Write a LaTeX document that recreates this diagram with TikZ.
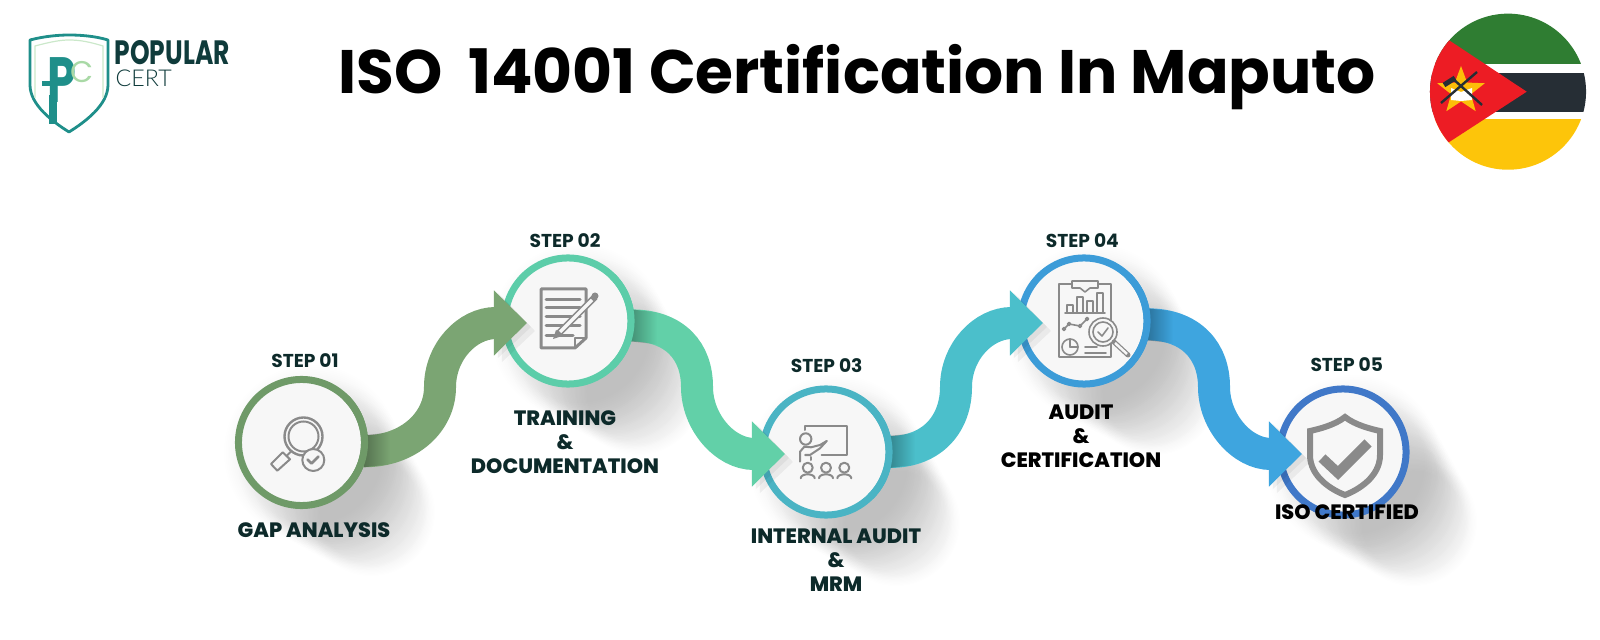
\documentclass[tikz,border=0pt]{standalone}
\usepackage{fontspec}
\setmainfont{Poppins}
\newfontfamily\certfont{Lato Light}
\newfontfamily\heavyfont{Poppins ExtraBold}
\definecolor{ringA}{HTML}{6F9A68}
\definecolor{ringB}{HTML}{5CCDA9}
\definecolor{ringC}{HTML}{4AB4C4}
\definecolor{ringD}{HTML}{3C9CD8}
\definecolor{ringE}{HTML}{4078C8}
\definecolor{bandA}{HTML}{7BA573}
\definecolor{bandB}{HTML}{62D0A8}
\definecolor{bandC}{HTML}{4BBFCB}
\definecolor{bandD}{HTML}{3EA5DF}
\definecolor{iconGray}{HTML}{8A8A8A}
\definecolor{discBg}{HTML}{F7F7F7}
\definecolor{labelInk}{HTML}{0D2A2A}
\definecolor{logoTeal}{HTML}{1F8F8A}
\definecolor{logoPale}{HTML}{A9D9A6}
\definecolor{logoInk}{HTML}{0F3B3B}
\definecolor{flagGreen}{HTML}{2F7D32}
\definecolor{flagBlack}{HTML}{262E35}
\definecolor{flagYellow}{HTML}{FDC50A}
\definecolor{flagRed}{HTML}{ED1C24}
\usetikzlibrary{arrows.meta, shapes.geometric, fadings}

\begin{document}
\begin{tikzpicture}[
  x=.01cm, y=-.01cm,
  stepc/.style={circle, draw=#1, fill=discBg, line width=.07cm, minimum size=1.26cm, inner sep=0pt, outer sep=0pt},
  steplab/.style={text=labelInk, font=\fontsize{5.3}{6.4}\selectfont\bfseries},
  namelab/.style={text=labelInk, align=center, font=\fontsize{5.9}{6.83}\selectfont\heavyfont},
  logotxt/.style={anchor=base west, inner sep=0pt, text=logoInk},
  icon/.style={draw=iconGray, line width=.02cm, line cap=round, line join=round},
  iconb/.style={icon, line width=.03cm},
  ribbon/.style={line width=.32cm, -{Triangle[length=.33cm,width=.63cm]}}
]
  \useasboundingbox (0,0) rectangle (1600,640);

  % long soft shadows
  \foreach \cx/\cy in {301/442, 568/321, 826/452, 1084/321, 1343/452}
    \foreach \d in {10,20,...,70}
      \fill[black, opacity=.04, path fading=circle with fuzzy edge 20 percent] (\cx+\d,\cy+\d) circle[radius={.92cm-\d*.004cm}];

  % title and logo
  \node[anchor=base, font=\fontsize{17.45}{22}\selectfont\bfseries] (title) at (857,94) {ISO\ \ 14001 Certification In Maputo};

  \draw[logoTeal, line width=.028cm, line join=round] (30,40) .. controls (45,36) and (60,35) .. (69,35) .. controls (80,35) and (95,36) .. (108,40) -- (108,85) .. controls (108,105) and (85,122) .. (69,132) .. controls (53,122) and (30,105) .. (30,85) -- cycle;
  \draw[logoPale!60, line width=.012cm] (35,98) -- (35,46) .. controls (50,42) and (60,40) .. (69,40) .. controls (80,40) and (90,42) .. (103,46) -- (103,98);
  \node[text=logoTeal, inner sep=0pt, font=\fontsize{18.2}{20}\selectfont\bfseries] (logoP) at (62,80) {\scalebox{.72}[1]{P}};
  \node[text=logoPale, inner sep=0pt, font=\fontsize{8.5}{10}\selectfont] (logoC) at (82,72) {C};
  \draw[logoTeal, line width=.07cm] (53,95) -- (53,124);
  \draw[logoTeal, line width=.05cm] (42,84) -- (57,84);
  \node[logotxt, text height=.23cm, text depth=0pt, font=\fontsize{9.6}{11}\selectfont\bfseries] (popular) at (114,65) {\scalebox{.74}[1]{POPULAR}};
  \node[logotxt, text height=.16cm, text depth=0pt, font=\fontsize{6.6}{8}\selectfont\certfont] (cert) at (115,87) {CERT};

  % flag
  \begin{scope}
    \clip (1508,91.7) circle[radius=.78cm];
    \fill[flagGreen] (1420,10) rectangle (1600,64);
    \fill[flagBlack] (1420,72.7) rectangle (1600,111.7);
    \fill[flagYellow] (1420,119.3) rectangle (1600,175);
    \fill[flagRed] (1420,21) -- (1526.7,91.7) -- (1420,161) -- cycle;
  \end{scope}
  \node[star, star points=5, star point ratio=2.4, fill=flagYellow!90!orange, inner sep=0pt, minimum size=.5cm] (flagstar) at (1461,91) {};
  \fill[white] (1451,88) -- (1461,92) -- (1472,88) -- (1472,100) -- (1461,101) -- (1451,100) -- cycle;
  \draw[flagBlack, line width=.024cm] (1441,103) -- (1477,72);
  \draw[flagBlack, line width=.024cm] (1452,78) -- (1482,105);
  \draw[flagBlack, line width=.05cm] (1444,85) -- (1455,78);

  % steps
  \node[stepc=ringA] (s1) at (301.5,442.5) {};
  \node[stepc=ringB] (s2) at (568,321) {};
  \node[stepc=ringC] (s3) at (826,452) {};
  \node[stepc=ringD] (s4) at (1084,321) {};
  \node[stepc=ringE] (s5) at (1343,452) {};

  \coordinate (m1) at (440,387);
  \coordinate (m2) at (697,387);
  \coordinate (m3) at (956,387);
  \coordinate (m4) at (1214,387);

  \foreach \a/\b/\m/\t/\s/\c/\r in {s1/s2/m1/-8/-1/bandA/ringA, s2/s3/m2/-4/1/bandB/ringB, s3/s4/m3/0/-1/bandC/ringC, s4/s5/m4/-3/1/bandD/ringD} {
    \foreach \o in {4,8}
      \fill[black, opacity=.05] ([shift={(\o-11,\o-32)}]\b.west) -- ([shift={(\o+22,\o+2)}]\b.west) -- ([shift={(\o-11,\o+33)}]\b.west) -- cycle;
    \draw[ribbon, \c] (\a.\t) .. controls +(45,0) and +(0,{-\s*35}) .. (\m) .. controls +(0,{\s*35}) and +(-60,0) .. ([xshift=.22cm,yshift=-.02cm]\b.west);
    \fill[black, opacity=.3, path fading=east] ([yshift=.16cm]\a.\t) -- ([xshift=.26cm,yshift={(.16-\s*.03)*1cm}]\a.\t) -- ([xshift=.26cm,yshift={(-.16-\s*.03)*1cm}]\a.\t) -- ([yshift=-.16cm]\a.\t) -- cycle;
    \draw[\r, line width=.07cm] (\a.-45) arc[start angle=-45, end angle=45, radius=.63cm];
  }

  % icon 1
  \begin{scope}[shift={(s1.center)}]
    \draw[icon, line width=.024cm] (2,-6) circle[radius=.19cm];
    \draw[icon] (2,-6) circle[radius=.15cm];
    \draw[icon] (-15,13.5) -- (-10,8.5);
    \draw[icon] (-18.8,9.8) -- (-11.5,16.8) -- (-24.2,28.2) -- (-30.5,21.5) -- cycle;
    \draw[icon, fill=discBg] (11.8,17.5) circle[radius=.11cm];
    \draw[icon, line width=.028cm] (6,17) -- (10,21) -- (17,14);
  \end{scope}

  % icon 2
  \begin{scope}[shift={(s2.center)}]
    \draw[iconb] (-27,-32) -- (18,-32) -- (18,17) -- (7,27) -- (-27,27) -- cycle;
    \draw[icon] (18,17) -- (7,17) -- (7,27);
    \foreach \ly/\lx in {-21/12, -13/12, -4/12, 5/12, 15/5}
      \draw[iconb] (-22,\ly) -- (\lx,\ly);
    \draw[iconGray, line width=.065cm] (27,-24) -- (-10,13);
    \draw[discBg, line width=.035cm] (24,-21) -- (-8,11);
    \fill[iconGray] (27,-25) circle[radius=.035cm];
    \fill[iconGray] (-15,18) -- (-12,9) -- (-6,15) -- cycle;
  \end{scope}

  % icon 3
  \begin{scope}[shift={(s3.center)}]
    \draw[icon] (-21,-22) -- (-21,-26.3) -- (20.7,-26.3) -- (20.7,3) -- (-4.3,3);
    \draw[icon] (-20.3,-13) circle[radius=.057cm];
    \draw[icon] (-26,9.7) -- (-26,-.3) -- (-21.7,-5.3) -- (-15,-4.7) -- (-6,-7) -- (.7,-11);
    \draw[icon] (-21,3) -- (-16,3) -- (-6,-3.7) -- (.7,-11);
    \draw[icon] (-15,5) -- (-15,8);
    \foreach \ax in {-18.3,0,18.3} {
      \draw[icon] (\ax,15.7) circle[radius=.05cm];
      \draw[icon] (\ax-7,26.3) .. controls (\ax-7,21) and (\ax+7,21) .. (\ax+7,26.3);
    }
  \end{scope}

  % icon 4
  \begin{scope}[shift={(s4.center)}, icon/.append style={line width=.016cm}]
    \draw[icon] (-25,-37) rectangle (27,36);
    \draw[icon, fill=discBg] (-12,-40) -- (14,-40) -- (14,-33) -- (6,-33) -- (1,-29) -- (-4,-33) -- (-12,-33) -- cycle;
    \draw[icon] (-19,-8) -- (21,-8);
    \foreach \ba/\bb/\bt in {-17/-11/-16, -7/-1/-24, 3/9/-20, 13/19/-28}
      \draw[icon] (\ba,-8) -- (\ba,\bt) -- (\bb,\bt) -- (\bb,-8);
    \draw[icon] (-20,8) -- (-15,3) -- (-4,5) -- (3,-2);
    \foreach \px/\py in {-20/8, -15/3, -4/5, 3/-2}
      \draw[icon, fill=discBg] (\px,\py) circle[radius=.016cm];
    \draw[icon] (-14,26) circle[radius=.08cm];
    \draw[icon] (-14,26) -- (-14,18);
    \draw[icon] (-14,26) -- (-6,26);
    \draw[icon] (1,26) -- (13,26);
    \draw[icon] (1,32) -- (22,32);
    \draw[icon, fill=discBg] (19,11) circle[radius=.14cm];
    \draw[icon] (19,11) circle[radius=.10cm];
    \draw[icon] (14,11) -- (18,15) -- (24,7);
    \draw[icon, line width=.05cm] (30,21) -- (44,34);
    \draw[discBg, line width=.025cm] (31,22) -- (43,33);
  \end{scope}

  % icon 5
  \begin{scope}[shift={(s5.center)}]
    \draw[iconGray, line width=.06cm, line join=miter] (2,-35) .. controls (12,-27) and (28,-23) .. (37,-21) -- (37,3) .. controls (37,25) and (15,38) .. (2,43) .. controls (-11,38) and (-33,25) .. (-33,3) -- (-33,-21) .. controls (-24,-23) and (-8,-27) .. (2,-35) -- cycle;
    \draw[iconGray, line width=.1cm, line join=miter] (-21,6) -- (-5,21) -- (25,-9);
  \end{scope}

  % labels
  \node[steplab] (top1) at (305,360.7) {STEP 01};
  \node[steplab] (top2) at (565,241) {STEP 02};
  \node[steplab] (top3) at (826.7,365.7) {STEP 03};
  \node[steplab] (top4) at (1082.3,240.7) {STEP 04};
  \node[steplab] (top5) at (1346.7,365) {STEP 05};
  \node[namelab] (lab1) at (314,530) {GAP ANALYSIS};
  \node[namelab] (lab2) at (565,442) {TRAINING\\\&\\DOCUMENTATION};
  \node[namelab] (lab3) at (836,560.5) {INTERNAL AUDIT\\\&\\MRM};
  \node[namelab, text=black] (lab4) at (1081,436.5) {AUDIT\\\&\\CERTIFICATION};
  \node[namelab, text=black] (lab5) at (1347,511.7) {ISO CERTIFIED};
\end{tikzpicture}
\end{document}
